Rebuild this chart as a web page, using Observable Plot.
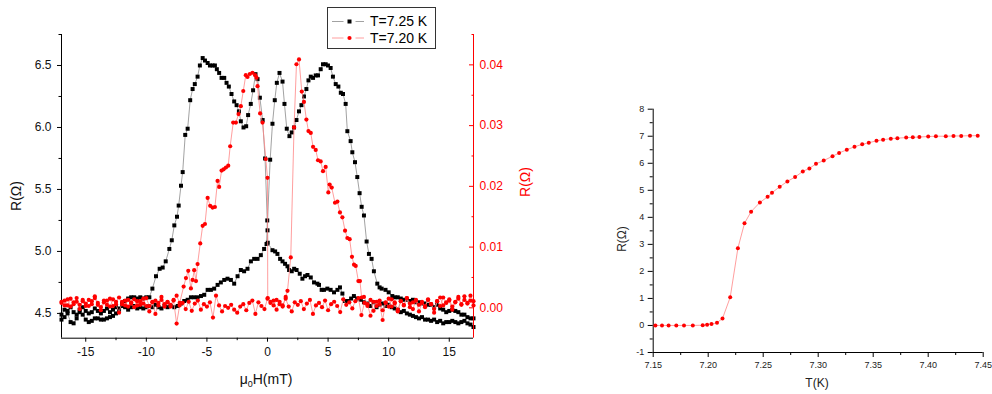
<!DOCTYPE html>
<html><head><meta charset="utf-8">
<script src="https://cdn.jsdelivr.net/npm/d3@7"></script>
<script src="https://cdn.jsdelivr.net/npm/@observablehq/plot@0.6"></script>
<style>
body{margin:0;background:#fff;}
#wrap{position:relative;width:992px;height:394px;overflow:hidden;font-family:"Liberation Sans",Arial,sans-serif;background:#fff;}
#wrap svg.layer{position:absolute;left:0;top:0;}
.lbl{position:absolute;white-space:nowrap;line-height:1;}
.rot{transform:translate(-50%,-50%) rotate(-90deg);}
.ctr{transform:translate(-50%,-50%);}
#legend{position:absolute;left:327px;top:7px;width:107px;height:40px;border:1px solid #333;background:#fff;}
#legend .row{position:absolute;left:42px;font-size:14px;line-height:1;}
</style></head><body><div id="wrap"></div>
<script>
// ---------- Left panel: R vs mu0H ----------
const fieldTicks = [-15, -10, -5, 0, 5, 10, 15];
const fieldMinor = [-12.5, -7.5, -2.5, 2.5, 7.5, 12.5];
const rBlackTicks = [4.5, 5.0, 5.5, 6.0, 6.5];
const rBlackMinor = [4.75, 5.25, 5.75, 6.25, 6.75];
const rRedTicks = [0, 0.01, 0.02, 0.03, 0.04];
const rRedMinor = [0.005, 0.015, 0.025, 0.035, 0.045];
const seriesNames = ["T=7.25 K", "T=7.20 K"];

// T = 7.25 K, sweep up (field, R in ohm)
const black725Up = [[-17,4.45],[-16.75,4.47],[-16.5,4.50],[-16.25,4.43],[-16,4.42],[-15.75,4.46],[-15.5,4.51],[-15.25,4.49],[-15,4.45],[-14.75,4.43],[-14.5,4.44],[-14.25,4.46],[-14,4.46],[-13.75,4.45],[-13.5,4.45],[-13.25,4.46],[-13,4.47],[-12.75,4.48],[-12.5,4.50],[-12.25,4.53],[-12,4.58],[-11.75,4.60],[-11.5,4.62],[-11.25,4.63],[-11,4.63],[-10.75,4.62],[-10.5,4.63],[-10.25,4.62],[-10,4.63],[-9.75,4.63],[-9.5,4.70],[-9.2,4.80],[-8.9,4.86],[-8.65,4.87],[-8.4,4.92],[-8.1,5.02],[-7.9,5.09],[-7.69,5.21],[-7.47,5.28],[-7.33,5.37],[-7.14,5.53],[-7.0,5.64],[-6.79,5.94],[-6.59,5.99],[-6.38,6.22],[-6.18,6.31],[-6.0,6.35],[-5.77,6.41],[-5.58,6.50],[-5.35,6.56],[-5.16,6.54],[-4.94,6.52],[-4.75,6.50],[-4.53,6.50],[-4.34,6.50],[-4.18,6.47],[-3.99,6.44],[-3.79,6.40],[-3.57,6.40],[-3.38,6.36],[-3.19,6.33],[-2.97,6.27],[-2.75,6.21],[-2.55,6.18],[-2.36,6.13],[-2.2,6.05],[-1.98,6.00],[-1.76,6.01],[-1.6,6.10],[-1.38,6.19],[-1.19,6.30],[-0.99,6.43],[-0.82,6.39],[-0.63,6.24],[-0.4,6.06],[-0.2,5.75],[-0.02,5.25],[0,5.17],[0.02,5.07],[0.41,5.01],[0.63,5.00],[0.82,4.98],[1.04,4.94],[1.24,4.92],[1.45,4.90],[1.65,4.88],[1.78,4.85],[2.0,4.84],[2.2,4.86],[2.4,4.85],[2.66,4.82],[2.88,4.78],[3.1,4.80],[3.3,4.81],[3.57,4.79],[3.84,4.75],[4.12,4.74],[4.25,4.73],[4.47,4.69],[4.66,4.69],[4.94,4.70],[5.21,4.69],[5.49,4.67],[5.77,4.69],[5.98,4.71],[6.18,4.66],[6.4,4.60],[6.67,4.60],[6.9,4.62],[7.13,4.64],[7.4,4.62],[7.7,4.61],[7.96,4.59],[8.25,4.58],[8.5,4.56],[8.75,4.59],[9,4.55],[9.25,4.57],[9.5,4.58],[9.75,4.56],[10,4.57],[10.25,4.55],[10.5,4.54],[10.75,4.53],[11,4.51],[11.25,4.52],[11.5,4.50],[11.75,4.49],[12,4.48],[12.25,4.47],[12.5,4.46],[12.75,4.47],[13,4.45],[13.25,4.45],[13.5,4.44],[13.75,4.45],[14,4.43],[14.25,4.44],[14.5,4.42],[14.75,4.43],[15,4.43],[15.25,4.44],[15.5,4.43],[15.75,4.42],[16,4.43],[16.25,4.44],[16.5,4.42],[16.75,4.41],[17,4.39]];

// T = 7.25 K, sweep down
const black725Down = [[-17,4.49],[-16.75,4.53],[-16.5,4.52],[-16.25,4.55],[-16,4.51],[-15.75,4.49],[-15.5,4.53],[-15.25,4.55],[-15,4.52],[-14.75,4.50],[-14.5,4.51],[-14.25,4.54],[-14,4.52],[-13.75,4.50],[-13.5,4.52],[-13.25,4.54],[-13,4.51],[-12.75,4.53],[-12.5,4.55],[-12.25,4.54],[-12,4.56],[-11.75,4.55],[-11.5,4.53],[-11.25,4.55],[-11,4.56],[-10.75,4.54],[-10.5,4.55],[-10.25,4.54],[-10,4.55],[-9.75,4.56],[-9.5,4.55],[-9.25,4.57],[-9,4.55],[-8.75,4.54],[-8.5,4.56],[-8.25,4.55],[-8,4.56],[-7.69,4.55],[-7.41,4.56],[-7.14,4.58],[-6.87,4.60],[-6.59,4.61],[-6.32,4.63],[-6.05,4.63],[-5.77,4.63],[-5.49,4.64],[-5.22,4.65],[-4.94,4.69],[-4.67,4.69],[-4.4,4.70],[-4.12,4.73],[-3.85,4.75],[-3.57,4.77],[-3.3,4.78],[-3.02,4.77],[-2.75,4.74],[-2.47,4.80],[-2.2,4.85],[-1.93,4.84],[-1.65,4.86],[-1.37,4.92],[-1.1,4.94],[-0.82,4.94],[-0.55,4.97],[-0.28,5.02],[-0.08,5.06],[0.22,5.74],[0.41,6.03],[0.6,6.22],[0.77,6.36],[0.99,6.44],[1.24,6.37],[1.4,6.19],[1.59,5.99],[1.81,5.93],[2.0,5.96],[2.19,6.00],[2.39,6.06],[2.6,6.13],[2.8,6.18],[3.01,6.25],[3.21,6.31],[3.38,6.38],[3.57,6.41],[3.76,6.40],[3.98,6.42],[4.17,6.42],[4.39,6.47],[4.58,6.51],[4.8,6.51],[4.99,6.50],[5.21,6.48],[5.4,6.41],[5.63,6.35],[5.85,6.33],[6.05,6.28],[6.23,6.27],[6.45,6.19],[6.59,5.97],[6.86,5.89],[7.0,5.80],[7.22,5.72],[7.41,5.60],[7.6,5.47],[7.77,5.36],[7.96,5.29],[8.18,5.08],[8.37,4.98],[8.59,4.94],[8.78,4.84],[9.06,4.74],[9.25,4.71],[9.42,4.70],[9.74,4.69],[10.0,4.67],[10.3,4.64],[10.5,4.63],[10.75,4.63],[11,4.62],[11.25,4.61],[11.5,4.61],[11.75,4.60],[12,4.61],[12.25,4.59],[12.5,4.59],[12.75,4.58],[13,4.58],[13.25,4.57],[13.5,4.57],[13.75,4.55],[14,4.57],[14.25,4.54],[14.5,4.53],[14.75,4.51],[15,4.52],[15.25,4.53],[15.5,4.52],[15.75,4.51],[16,4.49],[16.25,4.49],[16.5,4.47],[16.75,4.46],[17,4.46]];

// T = 7.20 K, sweep up (right axis, ohm)
const red720Up = [[-17,0.0008],[-16.75,0.0012],[-16.5,0.0004],[-16.25,0.0015],[-16,0.0006],[-15.75,0.0010],[-15.5,-0.0002],[-15.25,0.0013],[-15,0.0007],[-14.75,0.0003],[-14.5,0.0011],[-14.25,0.0016],[-14,0.0005],[-13.75,-0.0004],[-13.5,0.0009],[-13.25,0.0012],[-13,0.0002],[-12.75,0.0014],[-12.5,0.0006],[-12.25,-0.0008],[-12,0.0010],[-11.75,0.0004],[-11.5,0.0013],[-11.25,0.0007],[-11,0.0001],[-10.75,0.0011],[-10.5,0.0005],[-10.25,0.0015],[-10,0.0003],[-9.75,-0.0006],[-9.5,0.0009],[-9.25,0.0012],[-9,0.0004],[-8.75,0.0018],[-8.5,0.0006],[-8.25,0.0010],[-8,0.0002],[-7.75,0.0013],[-7.5,0.0020],[-7.25,0.0008],[-6.92,0.0035],[-6.73,0.0049],[-6.54,0.0061],[-6.32,0.0032],[-6.18,0.0046],[-6.05,0.0062],[-5.9,0.0044],[-5.77,0.0072],[-5.55,0.0106],[-5.35,0.0135],[-5.16,0.0138],[-4.94,0.0181],[-4.73,0.0168],[-4.53,0.0165],[-4.34,0.0166],[-4.12,0.0209],[-3.99,0.0199],[-3.79,0.0226],[-3.62,0.0228],[-3.43,0.0231],[-3.24,0.0234],[-3.08,0.0266],[-2.83,0.0305],[-2.61,0.0305],[-2.39,0.0319],[-2.2,0.0332],[-2.0,0.0357],[-1.79,0.0383],[-1.65,0.0380],[-1.46,0.0385],[-1.24,0.0387],[-1.02,0.0383],[-0.91,0.0379],[-0.82,0.0365],[-0.61,0.0320],[-0.41,0.0305],[-0.14,0.0245],[0,0.0214],[0.02,0.0016],[0.25,0.0008],[0.5,0.0012],[0.75,-0.0003],[1,0.0010],[1.25,0.0004],[1.5,0.0015],[1.75,0.0002],[2,-0.0006],[2.25,0.0009],[2.5,0.0005],[2.75,0.0011],[3,-0.0002],[3.25,0.0007],[3.5,0.0013],[3.75,-0.0010],[4,0.0004],[4.25,0.0008],[4.5,0.0001],[4.75,0.0012],[5,-0.0004],[5.25,0.0006],[5.5,0.0010],[5.75,0.0003],[6,-0.0007],[6.25,0.0014],[6.5,0.0005],[6.75,0.0009],[7,-0.0001],[7.25,0.0011],[7.5,0.0016],[7.75,-0.0012],[8,0.0008],[8.25,0.0003],[8.5,0.0013],[8.75,-0.0005],[9,0.0010],[9.25,0.0006],[9.5,-0.0020],[9.75,0.0009],[10,0.0002],[10.25,0.0014],[10.5,0.0007],[10.75,-0.0003],[11,0.0011],[11.25,0.0005],[11.5,0.0016],[11.75,0.0001],[12,0.0009],[12.25,0.0012],[12.5,-0.0006],[12.75,0.0008],[13,0.0003],[13.25,0.0013],[13.5,0.0006],[13.75,-0.0002],[14,0.0011],[14.25,0.0017],[14.5,0.0004],[14.75,0.0009],[15,0.0014],[15.25,0.0002],[15.5,0.0010],[15.75,0.0018],[16,0.0006],[16.25,0.0013],[16.5,0.0008],[16.75,0.0020],[17,0.0011]];

// T = 7.20 K, sweep down
const red720Down = [[-17,0.0010],[-16.75,0.0004],[-16.5,0.0014],[-16.25,0.0002],[-16,0.0009],[-15.75,0.0016],[-15.5,0.0005],[-15.25,0.0011],[-15,0.0003],[-14.75,0.0013],[-14.5,0.0006],[-14.25,0.0019],[-14,0.0008],[-13.75,0.0001],[-13.5,0.0012],[-13.25,0.0005],[-13,0.0015],[-12.75,0.0003],[-12.5,0.0010],[-12.25,0.0017],[-12,0.0006],[-11.75,0.0012],[-11.5,0.0002],[-11.25,0.0009],[-11,0.0014],[-10.75,0.0004],[-10.5,0.0011],[-10.25,0.0007],[-10,0.0016],[-9.75,0.0003],[-9.5,0.0010],[-9.25,-0.0010],[-9,0.0008],[-8.75,0.0013],[-8.5,0.0002],[-8.25,0.0009],[-8,0.0005],[-7.75,0.0012],[-7.5,-0.0026],[-7.25,0.0004],[-7,0.0008],[-6.75,-0.0002],[-6.5,0.0010],[-6.25,-0.0005],[-6,0.0007],[-5.75,0.0012],[-5.5,-0.0003],[-5.25,0.0006],[-5,0.0002],[-4.75,0.0009],[-4.5,-0.0016],[-4.25,0.0020],[-4,0.0004],[-3.75,-0.0006],[-3.5,0.0003],[-3.25,0.0000],[-3,0.0005],[-2.75,-0.0003],[-2.5,-0.0008],[-2.25,0.0002],[-2,0.0006],[-1.75,-0.0004],[-1.5,0.0008],[-1.25,0.0012],[-1,-0.0010],[-0.75,0.0009],[-0.5,0.0003],[-0.25,-0.0002],[0,0.0015],[0.25,0.0010],[0.5,0.0004],[0.75,0.0013],[1,0.0006],[1.25,0.0002],[1.5,0.0018],[1.65,0.0028],[1.92,0.0083],[2.19,0.0297],[2.39,0.0401],[2.6,0.0409],[2.83,0.0356],[3.01,0.0339],[3.21,0.0310],[3.38,0.0291],[3.57,0.0288],[3.76,0.0265],[3.98,0.0260],[4.17,0.0243],[4.39,0.0241],[4.58,0.0225],[4.8,0.0232],[5.02,0.0190],[5.13,0.0203],[5.3,0.0198],[5.57,0.0173],[5.77,0.0175],[5.98,0.0157],[6.18,0.0149],[6.4,0.0127],[6.59,0.0115],[6.78,0.0113],[6.97,0.0084],[7.14,0.0071],[7.28,0.0069],[7.5,0.0044],[7.63,0.0044],[7.77,0.0017],[7.96,0.0018],[8.25,0.0006],[8.5,-0.0013],[8.75,0.0010],[9,0.0003],[9.25,0.0012],[9.5,-0.0004],[9.75,0.0008],[10,0.0015],[10.25,0.0002],[10.5,0.0009],[10.75,-0.0006],[11,0.0011],[11.25,0.0004],[11.5,0.0016],[11.75,0.0007],[12,-0.0002],[12.25,0.0013],[12.5,0.0005],[12.75,0.0010],[13,0.0001],[13.25,0.0014],[13.5,0.0006],[13.75,-0.0008],[14,0.0011],[14.25,0.0003],[14.5,0.0017],[14.75,0.0008],[15,0.0012],[15.25,-0.0003],[15.5,0.0009],[15.75,0.0015],[16,0.0005],[16.25,0.0019],[16.5,0.0007],[16.75,0.0012],[17,0.0004]];

// ---------- Right panel: R vs T ----------
const tempTicks = [7.15, 7.20, 7.25, 7.30, 7.35, 7.40, 7.45];
const tempMinor = [7.175, 7.225, 7.275, 7.325, 7.375, 7.425];
const rtTicks = [-1, 0, 1, 2, 3, 4, 5, 6, 7, 8];
const rtMinor = [-0.5, 0.5, 1.5, 2.5, 3.5, 4.5, 5.5, 6.5, 7.5];
const rtT = [7.152,7.158,7.164,7.171,7.178,7.186,7.195,7.199,7.203,7.208,7.213,7.220,7.227,7.233,7.239,7.247,7.254,7.258,7.265,7.272,7.279,7.286,7.292,7.298,7.305,7.313,7.319,7.326,7.333,7.340,7.346,7.353,7.359,7.366,7.372,7.380,7.386,7.392,7.400,7.407,7.416,7.423,7.430,7.438,7.445];
const rtR = [0,0,0,0,0,0,0.01,0.03,0.05,0.10,0.26,1.04,2.86,3.78,4.21,4.55,4.76,4.91,5.13,5.33,5.49,5.70,5.81,5.98,6.10,6.26,6.38,6.50,6.61,6.70,6.76,6.83,6.87,6.91,6.93,6.95,6.96,6.97,6.99,7.00,7.00,7.01,7.01,7.02,7.02];

// ---------- build ----------
const FONT = '"Liberation Sans", Arial, sans-serif';
const wrap = document.getElementById("wrap");
const W = 992, H = 394;
const left = {marginLeft: 61, marginRight: 519, marginTop: 34, marginBottom: 56.3};
const fx = d => d[0], fy = d => d[1];
const style = {background: "transparent", fontFamily: FONT, overflow: "visible"};
const BLK_LINE = "#8a8a8a", RED_LINE = "#ff8585";

const pBlack = Plot.plot({
  width: W, height: H, ...left, style,
  x: {domain: [-17, 17]}, y: {domain: [4.3, 6.75]},
  marks: [
    Plot.axisY(rBlackTicks, {anchor: "left", tickSize: 4, tickPadding: 6, fontSize: 12, fill: "#111", tickFormat: d => d.toFixed(1), label: null}),
    Plot.axisY(rBlackMinor, {anchor: "left", tickSize: 2.5, tickFormat: () => "", label: null}),
    Plot.axisX(fieldTicks, {anchor: "bottom", tickSize: 4, tickPadding: 5, fontSize: 12, fill: "#111", tickFormat: d => String(d), label: null}),
    Plot.axisX(fieldMinor, {anchor: "bottom", tickSize: 2.5, tickFormat: () => "", label: null}),
    Plot.ruleX([-17], {stroke: "#000"}),
    Plot.ruleY([4.3], {stroke: "#000"}),
    Plot.line(black725Up, {x: fx, y: fy, stroke: BLK_LINE, strokeWidth: 0.8}),
    Plot.line(black725Down, {x: fx, y: fy, stroke: BLK_LINE, strokeWidth: 0.8}),
    Plot.dot(black725Up, {x: fx, y: fy, symbol: "square", r: 2.25, fill: "#000"}),
    Plot.dot(black725Down, {x: fx, y: fy, symbol: "square", r: 2.25, fill: "#000"})
  ]
});

const pRed = Plot.plot({
  width: W, height: H, ...left, style,
  x: {domain: [-17, 17], axis: null}, y: {domain: [-0.005, 0.045]},
  marks: [
    Plot.axisY(rRedTicks, {anchor: "right", tickSize: 0, tickPadding: 6, fontSize: 12, fill: "#ff0000", tickFormat: d => d.toFixed(2), label: null}),
    Plot.axisY(rRedTicks, {anchor: "right", tickSize: 5, dx: -5, stroke: "#ff0000", tickFormat: () => "", label: null}),
    Plot.axisY(rRedMinor, {anchor: "right", tickSize: 2.5, dx: -2.5, stroke: "#ff0000", tickFormat: () => "", label: null}),
    Plot.ruleX([17], {stroke: "#ff0000"}),
    Plot.line(red720Up, {x: fx, y: fy, stroke: RED_LINE, strokeWidth: 0.8}),
    Plot.line(red720Down, {x: fx, y: fy, stroke: RED_LINE, strokeWidth: 0.8}),
    Plot.dot(red720Up, {x: fx, y: fy, r: 2.1, fill: "#ff0000"}),
    Plot.dot(red720Down, {x: fx, y: fy, r: 2.1, fill: "#ff0000"})
  ]
});

const rtData = rtT.map((t, i) => ({t, r: rtR[i]}));
const pRT = Plot.plot({
  width: W, height: H, marginLeft: 652.7, marginRight: 9.3, marginTop: 108.7, marginBottom: 42, style,
  x: {domain: [7.15, 7.45]}, y: {domain: [-1, 8]},
  marks: [
    Plot.axisY(rtTicks, {anchor: "left", tickSize: 5, tickPadding: 4, fontSize: 9, fill: "#222", tickFormat: d => String(d), label: null}),
    Plot.axisY(rtMinor, {anchor: "left", tickSize: 3, tickFormat: () => "", label: null}),
    Plot.axisX(tempTicks, {anchor: "bottom", tickSize: 5, tickPadding: 4, fontSize: 9, fill: "#222", tickFormat: d => d.toFixed(2), label: null}),
    Plot.axisX(tempMinor, {anchor: "bottom", tickSize: 3, tickFormat: () => "", label: null}),
    Plot.ruleX([7.15], {stroke: "#000"}),
    Plot.ruleY([-1], {stroke: "#000"}),
    Plot.line(rtData, {x: "t", y: "r", stroke: RED_LINE, strokeWidth: 0.8}),
    Plot.dot(rtData, {x: "t", y: "r", r: 2, fill: "#ff0000"})
  ]
});

for (const p of [pBlack, pRed, pRT]) { p.classList.add("layer"); wrap.appendChild(p); }

function label(html, x, y, size, color, rot) {
  const d = document.createElement("div");
  d.className = "lbl " + (rot ? "rot" : "ctr");
  d.style.left = x + "px"; d.style.top = y + "px";
  d.style.fontSize = size + "px"; d.style.color = color;
  d.innerHTML = html;
  wrap.appendChild(d);
}
label("R(Ω)", 16, 196, 14, "#111", true);
label("μ<sub style='font-size:9px;vertical-align:-3px'>0</sub>H(mT)", 266, 380, 14, "#111", false);
label("R(Ω)", 525, 182, 14, "#ff0000", true);
label("R(Ω)", 622, 239, 12, "#222", true);
label("T(K)", 817, 383, 12, "#222", false);

// legend
const lg = document.createElement("div");
lg.id = "legend";
lg.innerHTML = `
<svg width="40" height="40" style="position:absolute;left:0;top:0">
  <line x1="4" x2="15.5" y1="13.5" y2="13.5" stroke="${BLK_LINE}" stroke-width="0.8"/>
  <line x1="27.5" x2="36" y1="13.5" y2="13.5" stroke="${BLK_LINE}" stroke-width="0.8"/>
  <rect x="19.5" y="11.5" width="4" height="4" fill="#000"/>
  <line x1="4" x2="15.5" y1="30" y2="30" stroke="${RED_LINE}" stroke-width="0.8"/>
  <line x1="27.5" x2="36" y1="30" y2="30" stroke="${RED_LINE}" stroke-width="0.8"/>
  <circle cx="21.5" cy="30" r="2.1" fill="#ff0000"/>
</svg>
<div class="row" style="top:6px">${seriesNames[0]}</div>
<div class="row" style="top:23px">${seriesNames[1]}</div>`;
wrap.appendChild(lg);
</script></body></html>
